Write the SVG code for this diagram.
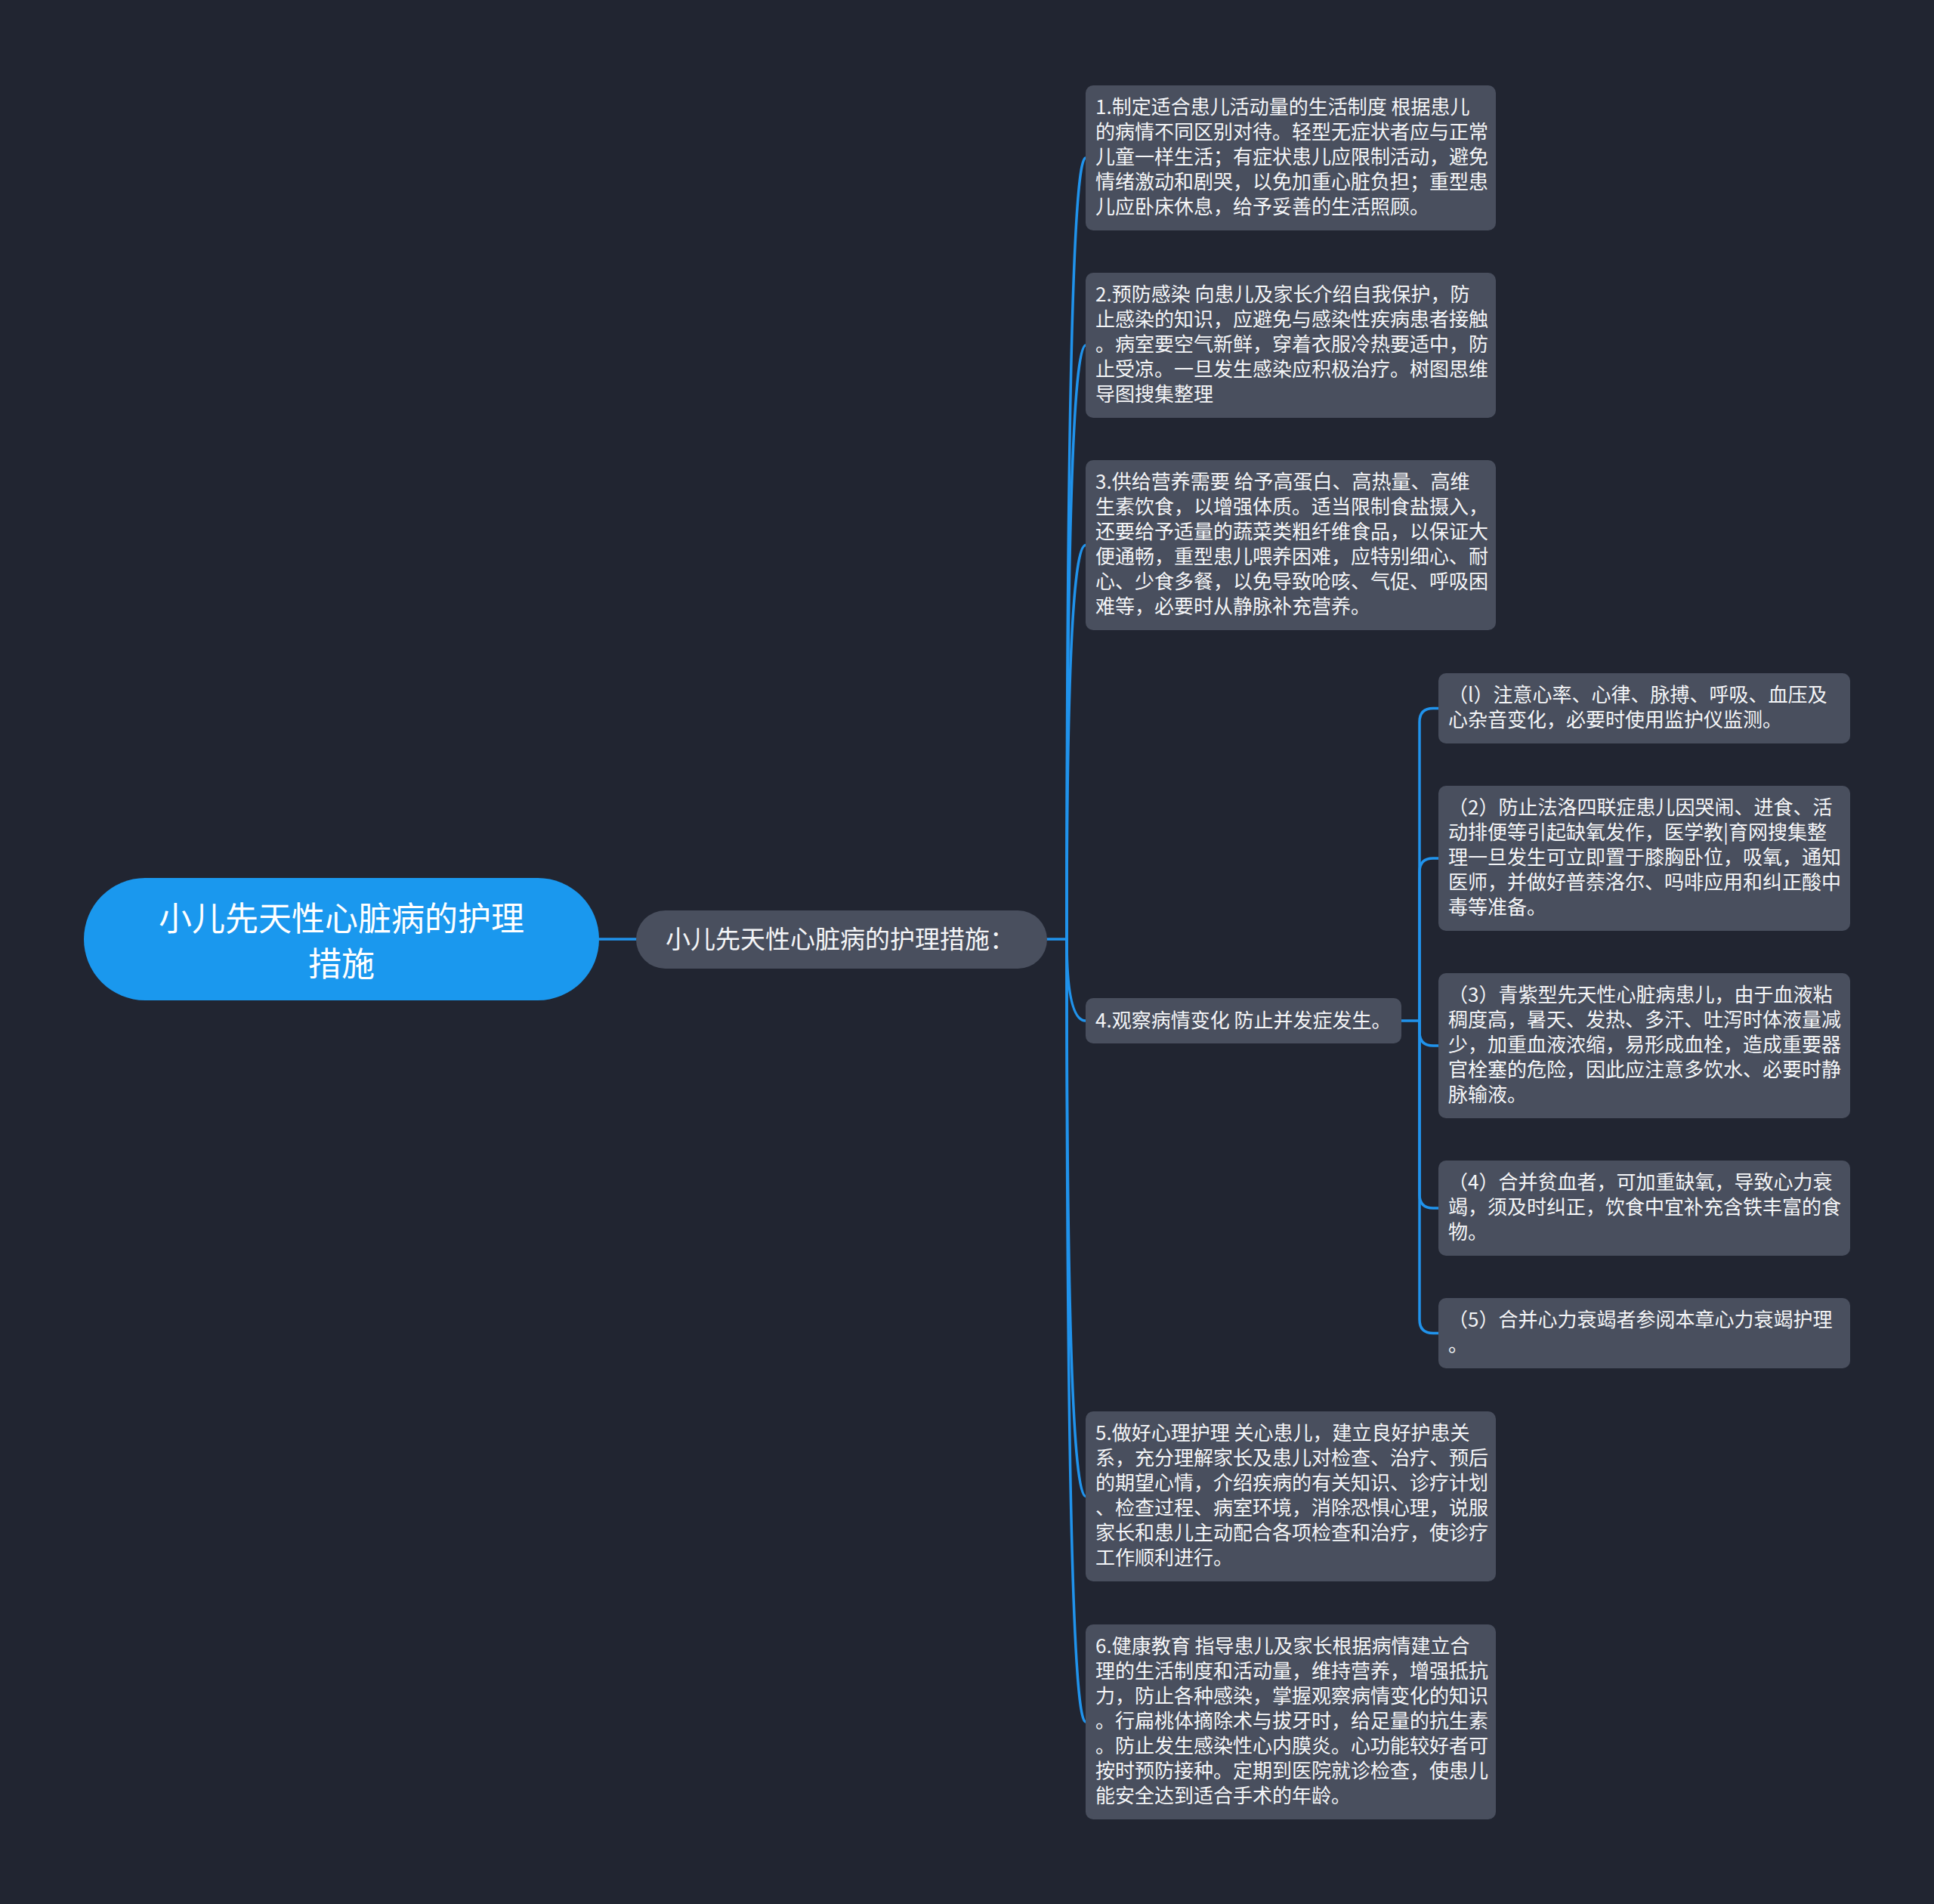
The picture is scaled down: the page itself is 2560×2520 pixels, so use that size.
<svg xmlns="http://www.w3.org/2000/svg" width="2560" height="2520" viewBox="0 0 2560 2520">
<style>
.bg{fill:#212531}
.box{fill:#494f5e}
.root{fill:#1a98ee}
.t{font-family:"Noto Sans CJK SC","Noto Sans",sans-serif;font-size:26px;fill:#f4f5f7}
.rt{font-family:"Noto Sans CJK SC","Noto Sans",sans-serif;font-size:44px;fill:#ffffff;text-anchor:middle}
.st{font-family:"Noto Sans CJK SC","Noto Sans",sans-serif;font-size:33px;fill:#f4f5f7}
.ln{fill:none;stroke:#2093ec;stroke-width:3.5;stroke-linecap:round}
</style>
<rect class="bg" x="0" y="0" width="2560" height="2520"/>
<g id="connectors">
<path class="ln" d="M793 1243 H842"/>
<path class="ln" d="M1386 1243 H1412"/>
<path class="ln" d="M1412 1243 Q1412 209 1437 209"/>
<path class="ln" d="M1412 1243 Q1412 457 1437 457"/>
<path class="ln" d="M1412 1243 Q1412 721.5 1437 721.5"/>
<path class="ln" d="M1412 1243 Q1412 1351 1437 1351"/>
<path class="ln" d="M1412 1243 Q1412 1980.5 1437 1980.5"/>
<path class="ln" d="M1412 1243 Q1412 2279 1437 2279"/>
<path class="ln" d="M1855 1351 H1879"/>
<path class="ln" d="M1879 1351 V955.5 Q1879 937.5 1897 937.5 H1904"/>
<path class="ln" d="M1879 1351 V1154 Q1879 1136 1897 1136 H1904"/>
<path class="ln" d="M1879 1351 V1366 Q1879 1384 1897 1384 H1904"/>
<path class="ln" d="M1879 1351 V1581 Q1879 1599 1897 1599 H1904"/>
<path class="ln" d="M1879 1351 V1746.5 Q1879 1764.5 1897 1764.5 H1904"/>
</g>
<g id="root">
<rect class="root" x="111" y="1162" width="682" height="162" rx="81"/>
<text class="rt" x="452" y="1232">小儿先天性心脏病的护理</text>
<text class="rt" x="452" y="1292">措施</text>
</g>
<g id="main">
<rect class="box" x="842" y="1205" width="544" height="77" rx="38.5"/>
<text class="st" x="881" y="1255">小儿先天性心脏病的护理措施：</text>
</g>
<g id="n1">
<rect class="box" x="1437" y="113" width="543" height="192" rx="10"/>
<text class="t" x="1450" y="151">1.制定适合患儿活动量的生活制度 根据患儿</text>
<text class="t" x="1450" y="184">的病情不同区别对待。轻型无症状者应与正常</text>
<text class="t" x="1450" y="217">儿童一样生活；有症状患儿应限制活动，避免</text>
<text class="t" x="1450" y="250">情绪激动和剧哭，以免加重心脏负担；重型患</text>
<text class="t" x="1450" y="283">儿应卧床休息，给予妥善的生活照顾。</text>
</g>
<g id="n2">
<rect class="box" x="1437" y="361" width="543" height="192" rx="10"/>
<text class="t" x="1450" y="399">2.预防感染 向患儿及家长介绍自我保护，防</text>
<text class="t" x="1450" y="432">止感染的知识，应避免与感染性疾病患者接触</text>
<text class="t" x="1450" y="465">。病室要空气新鲜，穿着衣服冷热要适中，防</text>
<text class="t" x="1450" y="498">止受凉。一旦发生感染应积极治疗。树图思维</text>
<text class="t" x="1450" y="531">导图搜集整理</text>
</g>
<g id="n3">
<rect class="box" x="1437" y="609" width="543" height="225" rx="10"/>
<text class="t" x="1450" y="647">3.供给营养需要 给予高蛋白、高热量、高维</text>
<text class="t" x="1450" y="680">生素饮食，以增强体质。适当限制食盐摄入，</text>
<text class="t" x="1450" y="713">还要给予适量的蔬菜类粗纤维食品，以保证大</text>
<text class="t" x="1450" y="746">便通畅，重型患儿喂养困难，应特别细心、耐</text>
<text class="t" x="1450" y="779">心、少食多餐，以免导致呛咳、气促、呼吸困</text>
<text class="t" x="1450" y="812">难等，必要时从静脉补充营养。</text>
</g>
<g id="n4">
<rect class="box" x="1437" y="1321" width="418" height="60" rx="10"/>
<text class="t" x="1450" y="1360">4.观察病情变化 防止并发症发生。</text>
</g>
<g id="s1">
<rect class="box" x="1904" y="891" width="545" height="93" rx="10"/>
<text class="t" x="1917" y="929">（l）注意心率、心律、脉搏、呼吸、血压及</text>
<text class="t" x="1917" y="962">心杂音变化，必要时使用监护仪监测。</text>
</g>
<g id="s2">
<rect class="box" x="1904" y="1040" width="545" height="192" rx="10"/>
<text class="t" x="1917" y="1078">（2）防止法洛四联症患儿因哭闹、进食、活</text>
<text class="t" x="1917" y="1111">动排便等引起缺氧发作，医学教|育网搜集整</text>
<text class="t" x="1917" y="1144">理一旦发生可立即置于膝胸卧位，吸氧，通知</text>
<text class="t" x="1917" y="1177">医师，并做好普萘洛尔、吗啡应用和纠正酸中</text>
<text class="t" x="1917" y="1210">毒等准备。</text>
</g>
<g id="s3">
<rect class="box" x="1904" y="1288" width="545" height="192" rx="10"/>
<text class="t" x="1917" y="1326">（3）青紫型先天性心脏病患儿，由于血液粘</text>
<text class="t" x="1917" y="1359">稠度高，暑天、发热、多汗、吐泻时体液量减</text>
<text class="t" x="1917" y="1392">少，加重血液浓缩，易形成血栓，造成重要器</text>
<text class="t" x="1917" y="1425">官栓塞的危险，因此应注意多饮水、必要时静</text>
<text class="t" x="1917" y="1458">脉输液。</text>
</g>
<g id="s4">
<rect class="box" x="1904" y="1536" width="545" height="126" rx="10"/>
<text class="t" x="1917" y="1574">（4）合并贫血者，可加重缺氧，导致心力衰</text>
<text class="t" x="1917" y="1607">竭，须及时纠正，饮食中宜补充含铁丰富的食</text>
<text class="t" x="1917" y="1640">物。</text>
</g>
<g id="s5">
<rect class="box" x="1904" y="1718" width="545" height="93" rx="10"/>
<text class="t" x="1917" y="1756">（5）合并心力衰竭者参阅本章心力衰竭护理</text>
<text class="t" x="1917" y="1789">。</text>
</g>
<g id="n5">
<rect class="box" x="1437" y="1868" width="543" height="225" rx="10"/>
<text class="t" x="1450" y="1906">5.做好心理护理 关心患儿，建立良好护患关</text>
<text class="t" x="1450" y="1939">系，充分理解家长及患儿对检查、治疗、预后</text>
<text class="t" x="1450" y="1972">的期望心情，介绍疾病的有关知识、诊疗计划</text>
<text class="t" x="1450" y="2005">、检查过程、病室环境，消除恐惧心理，说服</text>
<text class="t" x="1450" y="2038">家长和患儿主动配合各项检查和治疗，使诊疗</text>
<text class="t" x="1450" y="2071">工作顺利进行。</text>
</g>
<g id="n6">
<rect class="box" x="1437" y="2150" width="543" height="258" rx="10"/>
<text class="t" x="1450" y="2188">6.健康教育 指导患儿及家长根据病情建立合</text>
<text class="t" x="1450" y="2221">理的生活制度和活动量，维持营养，增强抵抗</text>
<text class="t" x="1450" y="2254">力，防止各种感染，掌握观察病情变化的知识</text>
<text class="t" x="1450" y="2287">。行扁桃体摘除术与拔牙时，给足量的抗生素</text>
<text class="t" x="1450" y="2320">。防止发生感染性心内膜炎。心功能较好者可</text>
<text class="t" x="1450" y="2353">按时预防接种。定期到医院就诊检查，使患儿</text>
<text class="t" x="1450" y="2386">能安全达到适合手术的年龄。</text>
</g>
</svg>
